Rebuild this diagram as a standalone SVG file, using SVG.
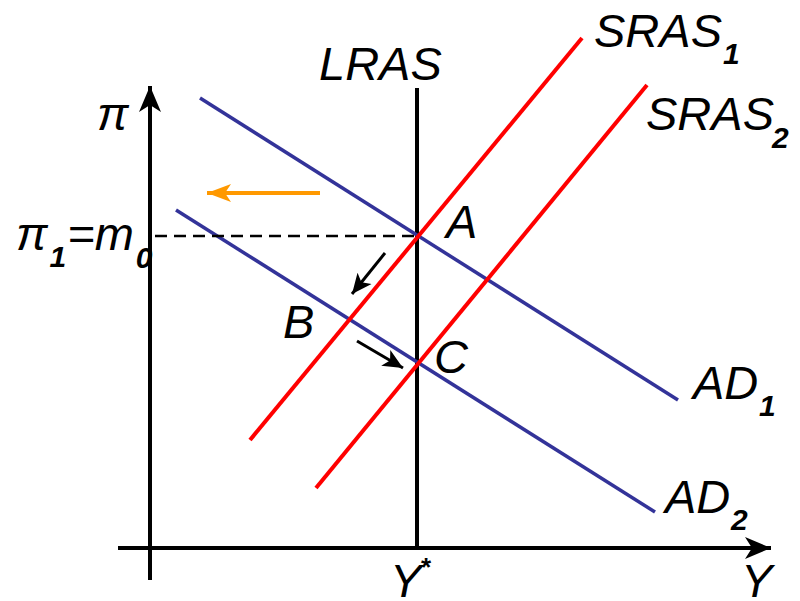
<svg xmlns="http://www.w3.org/2000/svg" width="800" height="601" viewBox="0 0 800 601">
<style>
.t{font-family:"Liberation Sans",Arial,sans-serif;font-style:italic;font-size:47px;fill:#000}
.s{font-family:"Liberation Sans",Arial,sans-serif;font-style:italic;font-weight:bold;font-size:30px;fill:#000}
.ax{stroke:#000;stroke-width:4;fill:none}
.ad{stroke:#333399;stroke-width:3.5;fill:none}
.as{stroke:#ff0000;stroke-width:4;fill:none}
</style>
<defs>
<marker id="axh" markerUnits="userSpaceOnUse" markerWidth="30" markerHeight="24" refX="26" refY="12" orient="auto">
<path d="M0,1 L26,12 L0,23 L7,12 Z" fill="#000"/>
</marker>
<marker id="bh" markerUnits="userSpaceOnUse" markerWidth="24" markerHeight="20" refX="20" refY="10" orient="auto">
<path d="M0,1 L20,10 L0,19 L5,10 Z" fill="#000"/>
</marker>
<marker id="oh" markerUnits="userSpaceOnUse" markerWidth="28" markerHeight="20" refX="24" refY="10" orient="auto">
<path d="M0,1 L24,10 L0,19 L6,10 Z" fill="#ff9900"/>
</marker>
</defs>
<g id="axes">
<line class="ax" x1="150" y1="580" x2="150" y2="86" marker-end="url(#axh)"/>
<line class="ax" x1="118" y1="548" x2="771" y2="548" marker-end="url(#axh)"/>
<text class="t" x="97" y="130">π</text>
<text class="t" x="741" y="597">Y</text>
</g>
<g id="LRAS">
<line class="ax" x1="417" y1="88" x2="417" y2="548"/>
<text class="t" x="319" y="80">LRAS</text>
<text class="t" x="390" y="597">Y</text>
<text x="421" y="576" style="font-family:'Liberation Sans',sans-serif;font-size:26px;font-weight:bold">*</text>
</g>
<g id="AD1">
<line class="ad" x1="200" y1="98" x2="678" y2="400"/>
<text class="t" x="693" y="399">AD</text><text class="s" x="759" y="416">1</text>
</g>
<g id="AD2">
<line class="ad" x1="176" y1="210" x2="655" y2="512"/>
<text class="t" x="665" y="513">AD</text><text class="s" x="731" y="530">2</text>
</g>
<g id="SRAS1">
<line class="as" x1="250" y1="440" x2="582" y2="38"/>
<text class="t" x="594" y="47">SRAS</text><text class="s" x="723" y="64">1</text>
</g>
<g id="SRAS2">
<line class="as" x1="316" y1="488" x2="647" y2="85"/>
<text class="t" x="646" y="130">SRAS</text><text class="s" x="772" y="148">2</text>
</g>
<g id="pi1">
<line x1="155" y1="236" x2="417" y2="236" stroke="#000" stroke-width="2.5" stroke-dasharray="12,7"/>
<text x="16" y="250"><tspan class="t">π</tspan><tspan class="s" dy="17" dx="2">1</tspan><tspan class="t" dy="-17" dx="1">=m</tspan><tspan class="s" dy="18" dx="2">0</tspan></text>
</g>
<g id="points">
<text class="t" x="446" y="238">A</text>
<text class="t" x="283" y="338">B</text>
<text class="t" x="434" y="373">C</text>
</g>
<g id="connectors">
<line x1="320" y1="193" x2="207" y2="193" stroke="#ff9900" stroke-width="4" marker-end="url(#oh)"/>
<line x1="385" y1="253" x2="352" y2="294" stroke="#000" stroke-width="3" marker-end="url(#bh)"/>
<line x1="357" y1="341" x2="403" y2="368" stroke="#000" stroke-width="3" marker-end="url(#bh)"/>
</g>
</svg>
